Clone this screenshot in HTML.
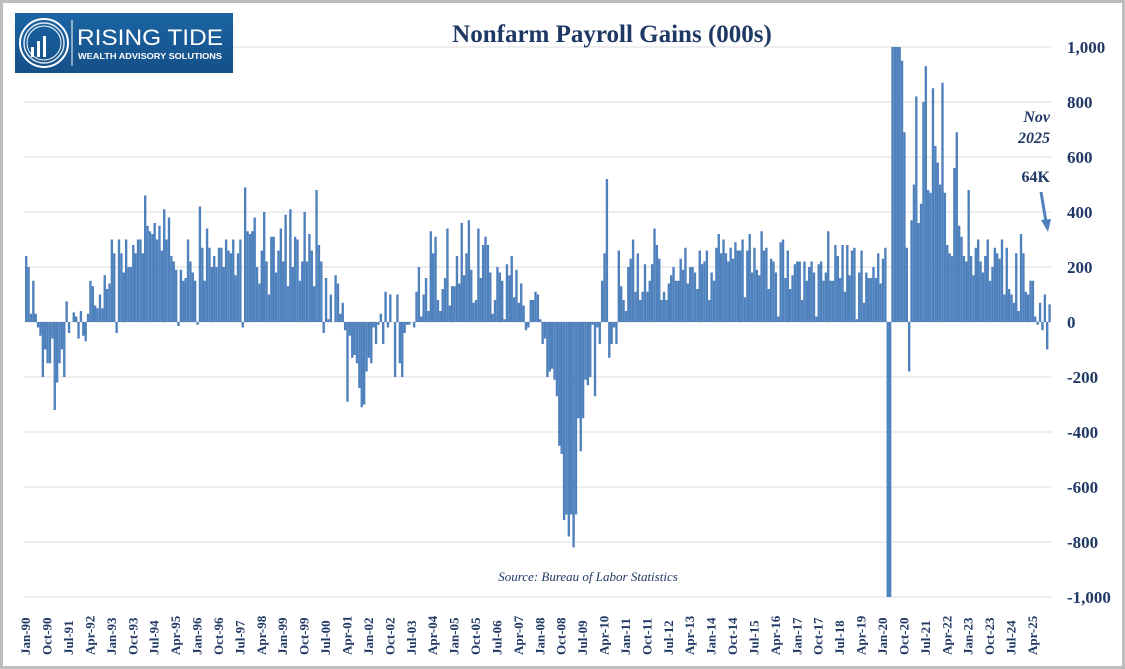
<!DOCTYPE html>
<html><head><meta charset="utf-8"><style>
html,body{margin:0;padding:0;background:#fff}
svg{display:block}
</style></head><body>
<svg id="s" width="1125" height="669" xmlns="http://www.w3.org/2000/svg" font-family="Liberation Serif, serif">
<rect x="1.5" y="1.5" width="1122" height="666" fill="#fff" stroke="#bdbdbd" stroke-width="3"/>
<g id="grid" stroke="#dcdcdc" stroke-width="1"></g>
<g id="bars" fill="#4f81bd"></g>
<g id="yl" fill="#1f3864" font-weight="bold" font-size="17"></g>
<g id="xl" fill="#1f3864" font-weight="bold" font-size="13"></g>
<defs><linearGradient id="lg" x1="0" y1="0" x2="0" y2="1"><stop offset="0" stop-color="#1b65a3"/><stop offset="1" stop-color="#154f88"/></linearGradient></defs>
<rect x="15" y="13" width="218" height="60" fill="url(#lg)"/>
<circle cx="44" cy="43" r="24" fill="none" stroke="#fff" stroke-width="2"/>
<circle cx="44" cy="43" r="20" fill="none" stroke="#dfe9f3" stroke-width="1.5"/>
<circle cx="44" cy="43" r="17" fill="none" stroke="#fff" stroke-width="1"/>
<rect x="31" y="47" width="3" height="10" fill="#fff"/><rect x="37" y="41" width="3" height="16" fill="#fff"/><rect x="43" y="36" width="3" height="21" fill="#fff"/>
<line x1="72" y1="20" x2="72" y2="66" stroke="#fff" stroke-width="1"/>
<text x="77" y="45" fill="#fff" font-family="Liberation Sans, sans-serif" font-size="22" textLength="146" lengthAdjust="spacingAndGlyphs">RISING TIDE</text>
<text x="78" y="59" fill="#fff" font-family="Liberation Sans, sans-serif" font-size="8" font-weight="bold" textLength="144" lengthAdjust="spacingAndGlyphs">WEALTH ADVISORY SOLUTIONS</text>
<text x="612" y="42" text-anchor="middle" fill="#1f3864" font-weight="bold" font-size="25">Nonfarm Payroll Gains (000s)</text>
<text x="588" y="581" text-anchor="middle" fill="#1f3864" font-style="italic" font-size="13">Source: Bureau of Labor Statistics</text>
<text x="1050" y="122" text-anchor="end" fill="#1f3864" font-style="italic" font-weight="bold" font-size="16">Nov</text>
<text x="1050" y="143" text-anchor="end" fill="#1f3864" font-style="italic" font-weight="bold" font-size="16">2025</text>
<text x="1050" y="182" text-anchor="end" fill="#1f3864" font-weight="bold" font-size="16">64K</text>
<line x1="1041" y1="192" x2="1046" y2="222" stroke="#4f81bd" stroke-width="3"/>
<polygon points="1041,220 1051,219 1048,232" fill="#4f81bd"/>
</svg>
<script>
var d=[
240,200,30,150,30,-20,-50,-200,-100,-150,-150,-60,
-320,-220,-150,-100,-200,75,-40,0,35,20,-60,40,
-50,-70,30,150,130,60,50,100,50,170,120,140,
300,250,-40,300,250,180,300,200,200,280,250,300,
300,250,460,350,330,320,360,300,350,260,410,300,
380,240,220,190,-15,190,150,160,300,220,180,150,
-10,420,270,150,340,270,200,240,200,270,270,200,
300,260,250,300,170,250,300,-20,490,330,320,330,
380,200,140,260,400,220,100,310,310,180,260,340,
220,390,130,410,200,310,300,150,220,400,220,320,
260,130,480,280,220,-40,160,10,100,0,170,140,
30,70,-30,-290,-50,-130,-120,-150,-240,-310,-300,-180,
-130,-150,-20,-80,-10,30,-80,110,-20,100,0,-200,
100,-150,-200,-40,-10,-10,0,-20,110,200,20,100,
160,40,330,250,310,80,40,120,160,340,60,130,
130,240,140,360,170,250,370,190,70,80,340,160,
280,310,280,180,30,80,200,180,150,10,210,170,
240,90,190,70,140,60,-30,-20,80,80,110,100,
10,-80,-60,-200,-180,-170,-210,-270,-450,-480,-720,-700,
-780,-700,-820,-700,-350,-470,-350,-210,-230,-200,-10,-270,
-20,-80,150,250,520,-130,-80,-20,-80,260,130,80,
40,200,230,300,110,250,80,110,210,110,150,210,
340,280,230,80,110,80,140,170,200,150,150,230,
190,270,140,200,200,180,120,260,210,220,260,80,
180,150,270,320,250,300,250,220,270,230,290,260,
260,300,90,260,320,180,270,190,170,330,260,270,
120,230,220,180,20,290,300,160,260,120,170,210,
220,220,80,220,150,200,220,180,20,210,220,150,
180,330,150,150,280,240,160,280,110,280,170,260,
270,10,180,260,70,180,160,160,200,160,250,140,
230,270,-1400,-20000,2700,4500,1600,1600,950,690,270,-180,
370,500,820,360,430,800,930,480,470,850,640,580,
500,870,470,280,250,240,560,690,350,310,240,220,
480,240,170,270,300,220,180,240,300,150,200,270,
250,230,300,100,270,120,100,70,250,40,320,250,
110,100,150,150,20,-10,70,-30,100,-100,64];
var NS="http://www.w3.org/2000/svg";
function el(t,a,p,txt){var e=document.createElementNS(NS,t);for(var k in a)e.setAttribute(k,a[k]);if(txt)e.textContent=txt;document.getElementById(p).appendChild(e);}
function Y(v){return 322-v*0.275;}
for(var v=-1000;v<=1000;v+=200){el('line',{x1:24,x2:1052,y1:Y(v),y2:Y(v)},'grid');
el('text',{x:1067,y:Y(v)+6},'yl',v==0?'0':(v<0?'-':'')+(Math.abs(v)>=1000?'1,000':Math.abs(v)));}
var w=2.38,x0=25;
for(var i=0;i<d.length;i++){var v=Math.max(-1000,Math.min(1000,d[i]));var y=Math.min(Y(0),Y(v));var h=Math.abs(Y(v)-Y(0));
el('rect',{x:(x0+i*w).toFixed(2),y:y.toFixed(2),width:w.toFixed(2),height:h.toFixed(2)},'bars');}
for(var m=0;m<d.length;m+=9){var yr=90+Math.floor(m/12);var lab=['Jan','Feb','Mar','Apr','May','Jun','Jul','Aug','Sep','Oct','Nov','Dec'][m%12]+'-'+String(yr%100).padStart(2,'0');
var x=x0+m*w+w/2+4;el('text',{x:0,y:0,transform:'translate('+x.toFixed(1)+',655) rotate(-90)'},'xl',lab);}
</script>
</body></html>
